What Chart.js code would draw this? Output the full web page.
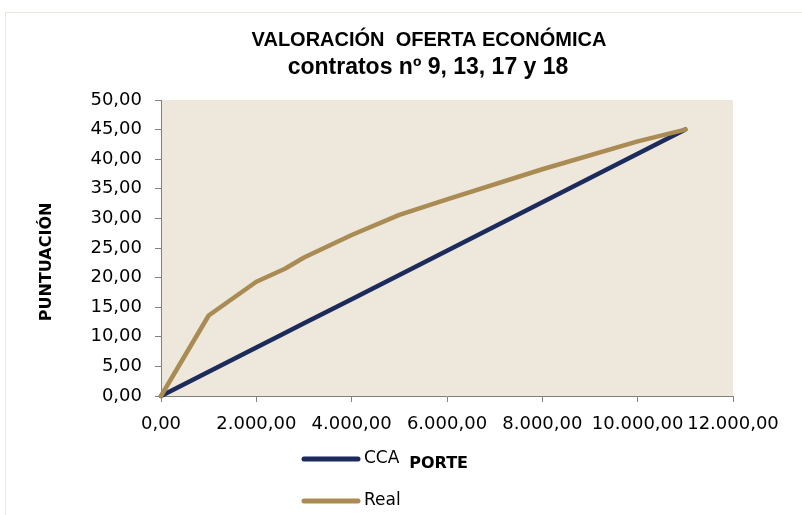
<!DOCTYPE html>
<html lang="es">
<head>
<meta charset="utf-8">
<title>Valoración oferta económica</title>
<script src="https://cdn.jsdelivr.net/npm/chart.js@4.4.1/dist/chart.umd.min.js"></script>
<style>
  html, body { margin: 0; padding: 0; background: #ffffff; }
  #grafico { display: block; }
</style>
</head>
<body>
<canvas id="grafico" width="802" height="515"></canvas>
<script>
// --- Datos ---
const importes = [0, 1000, 2000, 2600, 3000, 4000, 5000, 6000, 8000, 10000, 11000];
const puntosCCA = [0, 4.09, 8.18, 10.64, 12.27, 16.36, 20.45, 24.55, 32.73, 40.91, 45];
const puntosReal = [0, 13.6, 19.3, 21.5, 23.4, 27.2, 30.6, 33.2, 38.3, 43.0, 45];
const etiquetasSeries = ["CCA", "Real"];
const coloresSeries = ["#1c2b5c", "#a98b53"];

const titulo = "VALORACIÓN  OFERTA ECONÓMICA";
const subtitulo = "contratos nº 9, 13, 17 y 18";
const tituloY = "PUNTUACIÓN";
const tituloX = "PORTE";

// Formato español: 12.000,00
function formatoES(v) {
    const partes = Number(v).toFixed(2).split(".");
    partes[0] = partes[0].replace(/\B(?=(\d{3})+(?!\d))/g, ".");
    return partes.join(",");
}

function puntos(xs, ys) {
    return xs.map((x, i) => ({ x: x, y: ys[i] }));
}

// Fondo del área de trazado y marco exterior
const fondoPlugin = {
    id: "fondo",
    beforeDraw(chart) {
        const { ctx, chartArea } = chart;
        ctx.save();
        ctx.strokeStyle = "#ece6da";
        ctx.lineWidth = 1;
        ctx.strokeRect(5.5, 12.5, 900, 600);
        ctx.fillStyle = "#ede7dc";
        ctx.fillRect(chartArea.left, chartArea.top, chartArea.right - chartArea.left, chartArea.bottom - chartArea.top);
        ctx.restore();
    }
};

// Títulos centrados sobre todo el gráfico
const titulosPlugin = {
    id: "titulos",
    afterDraw(chart) {
        const { ctx } = chart;
        ctx.save();
        ctx.fillStyle = "#000000";
        ctx.textAlign = "center";
        ctx.textBaseline = "middle";
        ctx.font = "bold 20px 'Liberation Sans'";
        ctx.fillText(titulo, 429, 40);
        ctx.font = "bold 23px 'Liberation Sans'";
        ctx.fillText(subtitulo, 428, 68);
        ctx.restore();
    }
};

// Leyenda vertical abajo a la izquierda
const leyendaPlugin = {
    id: "leyendaVertical",
    afterDraw(chart) {
        const { ctx } = chart;
        const filas = [459, 501];
        ctx.save();
        chart.data.datasets.forEach((ds, i) => {
            const y = filas[i];
            ctx.strokeStyle = ds.borderColor;
            ctx.lineWidth = 5;
            ctx.lineCap = "round";
            ctx.beginPath();
            ctx.moveTo(304, y);
            ctx.lineTo(358, y);
            ctx.stroke();
            ctx.fillStyle = "#000000";
            ctx.font = "17px 'DejaVu Sans'";
            ctx.textAlign = "left";
            ctx.textBaseline = "middle";
            ctx.fillText(ds.label, 364, y);
        });
        ctx.restore();
    }
};

const ctx = document.getElementById("grafico").getContext("2d");

new Chart(ctx, {
    type: "line",
    data: {
        datasets: [
            {
                label: etiquetasSeries[0],
                data: puntos(importes, puntosCCA),
                borderColor: coloresSeries[0],
                backgroundColor: coloresSeries[0],
                borderWidth: 4.5,
                order: 1
            },
            {
                label: etiquetasSeries[1],
                data: puntos(importes, puntosReal),
                borderColor: coloresSeries[1],
                backgroundColor: coloresSeries[1],
                borderWidth: 4.5,
                order: 0
            }
        ]
    },
    options: {
        responsive: false,
        animation: false,
        layout: { padding: { top: 100, left: 0, right: 69, bottom: 0 } },
        elements: {
            point: { radius: 0, hoverRadius: 0 },
            line: { tension: 0, borderCapStyle: "round", borderJoinStyle: "round", fill: false }
        },
        datasets: { line: { clip: 6 } },
        plugins: {
            legend: { display: false },
            tooltip: { enabled: false }
        },
        scales: {
            x: {
                type: "linear",
                min: 0,
                max: 12000,
                afterFit(s) { s.height = 119; },
                ticks: {
                    stepSize: 2000,
                    color: "#000000",
                    padding: 12,
                    maxRotation: 0,
                    autoSkip: false,
                    font: { family: "'DejaVu Sans'", size: 18 },
                    callback: (v) => formatoES(v)
                },
                grid: { drawOnChartArea: false, drawTicks: true, tickLength: 6, color: "#808080" },
                border: { display: true, color: "#808080", width: 1 },
                title: {
                    display: true,
                    text: tituloX + "   ",
                    color: "#000000",
                    font: { family: "'DejaVu Sans'", size: 16, weight: "bold", lineHeight: 1.2 },
                    padding: { top: 0, bottom: 42 }
                }
            },
            y: {
                min: 0,
                max: 50,
                afterFit(s) { s.width = 161; },
                ticks: {
                    stepSize: 5,
                    color: "#000000",
                    padding: 13,
                    font: { family: "'DejaVu Sans'", size: 18 },
                    callback: (v) => formatoES(v)
                },
                grid: { drawOnChartArea: false, drawTicks: true, tickLength: 6, color: "#808080" },
                border: { display: true, color: "#808080", width: 1 },
                title: {
                    display: true,
                    text: tituloY + "     ",
                    color: "#000000",
                    font: { family: "'DejaVu Sans'", size: 16, weight: "bold", lineHeight: 1.2 },
                    padding: { top: 37, bottom: 0 }
                }
            }
        }
    },
    plugins: [fondoPlugin, titulosPlugin, leyendaPlugin]
});
</script>
</body>
</html>
